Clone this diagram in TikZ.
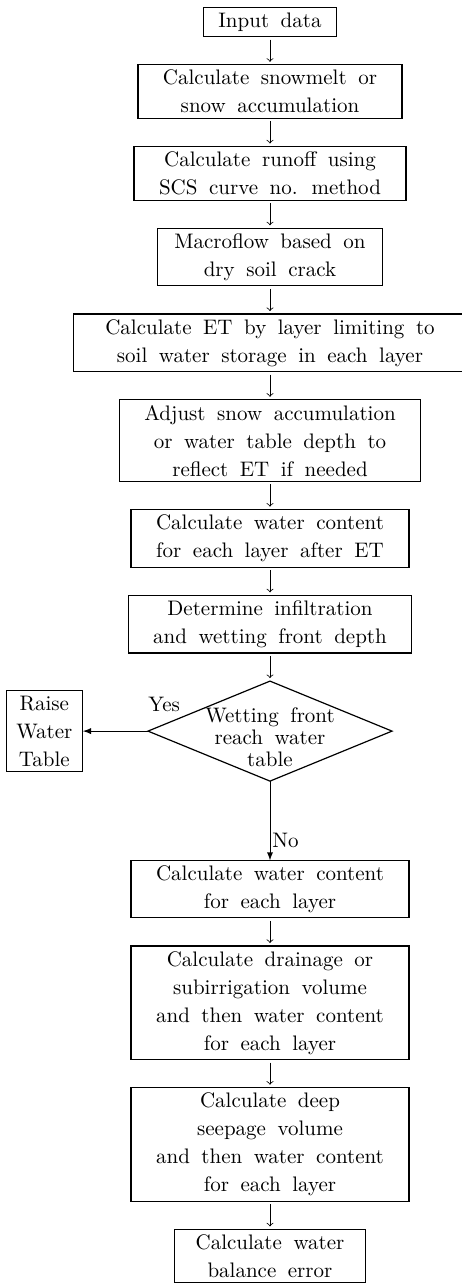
\documentclass[tikz,border=0pt]{standalone}
\usepackage{tikz}
\usetikzlibrary{matrix,arrows,positioning,shapes.geometric}

\newcommand\flowfont{\fontsize{10.5}{14}\selectfont}

\begin{document}
\begin{tikzpicture}[x=0.5pt,y=-0.5pt,
  txt/.style={font=\flowfont,execute at begin node={\spaceskip=0.55em\relax}},
  stage/.style={txt,draw,line width=0.6pt,align=center,inner xsep=12.5pt,inner ysep=2.6pt},
  decision/.style={draw,diamond,line width=0.6pt,inner sep=0pt,minimum width=122pt,minimum height=50pt},
  ]
  \useasboundingbox (0,0) rectangle (461,1285);
  \matrix (flow) [row sep=13.5pt, anchor=north, inner sep=0pt, outer sep=0pt] at (270,7)
  {
\node[stage, inner xsep=7.5pt] (input) {Input data}; \\
\node[stage] (snow) {Calculate snowmelt or\\snow accumulation}; \\
\node[stage] (runoff) {Calculate runoff using\\SCS curve no. method}; \\
\node[stage, inner xsep=8.5pt] (macro) {Macroflow based on\\dry soil crack}; \\
\node[stage, inner xsep=16pt] (et) {Calculate ET by layer limiting to\\soil water storage in each layer}; \\
\node[stage] (adjust) {Adjust snow accumulation\\or water table depth to\\reflect ET if needed}; \\
\node[stage] (contentet) {Calculate water content\\for each layer after ET}; \\
\node[stage] (infil) {Determine infiltration\\and wetting front depth}; \\
\node[decision] (reach) {}; \\[25.5pt]
\node[stage] (content) {Calculate water content\\for each layer}; \\
\node[stage] (drain) {Calculate drainage or\\subirrigation volume\\and then water content\\for each layer}; \\
\node[stage] (seep) {Calculate deep\\seepage volume\\and then water content\\for each layer}; \\
\node[stage, inner xsep=10.5pt] (balance) {Calculate water\\balance error}; \\
};
  \node[txt, font=\fontsize{10.5}{11}\selectfont, align=center, yshift=-3pt] (reachtext) at (reach) {Wetting front\\reach water\\table};
  \node[stage, inner xsep=5pt, left=32.5pt of reach] (raise) {Raise\\Water\\Table};
  \path[->, shorten <=1.5pt, shorten >=1.5pt]
  (input) edge (snow)
  (snow) edge (runoff)
  (runoff) edge (macro)
  (macro) edge (et)
  (et) edge (adjust)
  (adjust) edge (contentet)
  (contentet) edge (infil)
  (infil) edge (reach)
  (content) edge (drain)
  (drain) edge (seep)
  (seep) edge (balance)
  ;
  \draw[-latex] (reach.west) -- node[txt, pos=0, above right, yshift=6pt, inner xsep=0pt] {Yes} (raise.east);
  \draw[-latex] (reach.south) -- node[txt, pos=0.75, right, inner xsep=1pt] {No} (content.north);
\end{tikzpicture}
\end{document}
